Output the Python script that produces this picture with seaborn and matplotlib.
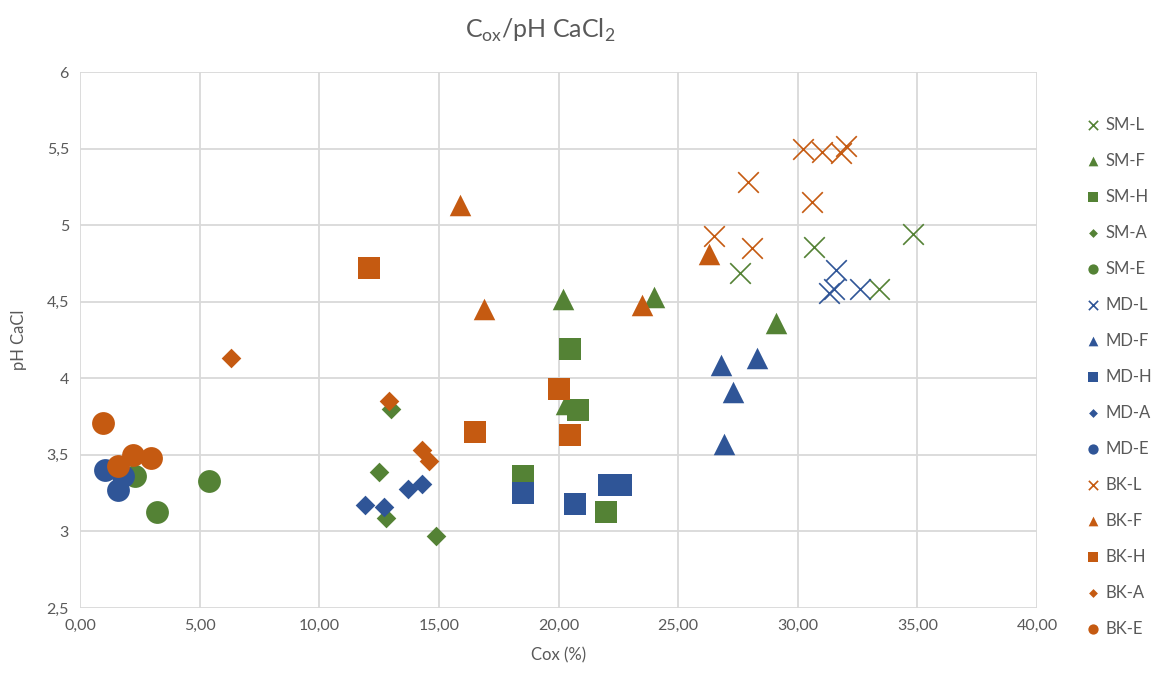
import pandas as pd
import matplotlib
matplotlib.use('Agg')
import matplotlib.pyplot as plt
from matplotlib.ticker import FuncFormatter, MultipleLocator
import seaborn as sns

# Series values (Cox %, pH CaCl2)
sm_l_x = [27.6, 30.7, 34.8, 33.4]
sm_l_y = [4.69, 4.86, 4.94, 4.58]
sm_f_x = [20.2, 24.0, 29.1, 20.3]
sm_f_y = [4.52, 4.53, 4.36, 3.83]
sm_h_x = [20.5, 20.8, 18.5, 22.0]
sm_h_y = [4.19, 3.79, 3.36, 3.13]
sm_a_x = [13.0, 12.5, 12.8, 14.9]
sm_a_y = [3.80, 3.39, 3.09, 2.97]
sm_e_x = [2.3, 5.4, 3.2]
sm_e_y = [3.36, 3.33, 3.13]

md_l_x = [31.6, 31.5, 31.3, 32.6]
md_l_y = [4.71, 4.58, 4.56, 4.58]
md_f_x = [26.8, 28.3, 27.3, 26.9]
md_f_y = [4.09, 4.13, 3.91, 3.57]
md_h_x = [18.5, 20.7, 22.1, 22.6]
md_h_y = [3.25, 3.18, 3.30, 3.30]
md_a_x = [14.3, 13.7, 11.9, 12.7]
md_a_y = [3.31, 3.28, 3.17, 3.16]
md_e_x = [1.05, 1.6, 1.8]
md_e_y = [3.40, 3.27, 3.36]

bk_l_x = [30.2, 31.0, 31.8, 32.0, 27.9, 30.6, 26.5, 28.1]
bk_l_y = [5.50, 5.48, 5.47, 5.52, 5.28, 5.15, 4.93, 4.85]
bk_f_x = [15.9, 16.9, 23.5, 26.3]
bk_f_y = [5.13, 4.45, 4.48, 4.81]
bk_h_x = [12.1, 16.5, 20.0, 20.5]
bk_h_y = [4.72, 3.65, 3.93, 3.63]
bk_a_x = [6.3, 12.9, 14.3, 14.6]
bk_a_y = [4.13, 3.85, 3.53, 3.46]
bk_e_x = [0.97, 1.6, 2.2, 2.95]
bk_e_y = [3.71, 3.43, 3.50, 3.48]

sites = ['SM', 'MD', 'BK']
layers = ['L', 'F', 'H', 'A', 'E']

site_colors = {'SM': '#548235', 'MD': '#2F5597', 'BK': '#C55A11'}
layer_markers = {'L': 'x', 'F': '^', 'H': 's', 'A': 'D', 'E': 'o'}
layer_sizes = {'L': 220, 'F': 240, 'H': 270, 'A': 100, 'E': 270}

GREY = '#595959'


def build_frame():
    """Collect all series into one long table."""
    data = {
        ('SM', 'L'): (sm_l_x, sm_l_y), ('SM', 'F'): (sm_f_x, sm_f_y),
        ('SM', 'H'): (sm_h_x, sm_h_y), ('SM', 'A'): (sm_a_x, sm_a_y),
        ('SM', 'E'): (sm_e_x, sm_e_y),
        ('MD', 'L'): (md_l_x, md_l_y), ('MD', 'F'): (md_f_x, md_f_y),
        ('MD', 'H'): (md_h_x, md_h_y), ('MD', 'A'): (md_a_x, md_a_y),
        ('MD', 'E'): (md_e_x, md_e_y),
        ('BK', 'L'): (bk_l_x, bk_l_y), ('BK', 'F'): (bk_f_x, bk_f_y),
        ('BK', 'H'): (bk_h_x, bk_h_y), ('BK', 'A'): (bk_a_x, bk_a_y),
        ('BK', 'E'): (bk_e_x, bk_e_y),
    }
    rows = []
    for (site, layer), (xs, ys) in data.items():
        for x, y in zip(xs, ys):
            rows.append({'site': site, 'layer': layer, 'series': f'{site}-{layer}',
                         'cox': x, 'ph': y})
    return pd.DataFrame(rows)


def main():
    sns.set_theme(style='white')
    plt.rcParams['font.family'] = ['Lato', 'DejaVu Sans']
    plt.rcParams['mathtext.fontset'] = 'custom'
    plt.rcParams['mathtext.rm'] = 'Lato'

    df = build_frame()

    fig = plt.figure(figsize=(11.54, 6.75), dpi=100)
    ax = fig.add_axes([80 / 1154, 1 - 608 / 675, (1037 - 80) / 1154, (608 - 72) / 675])

    for site in sites:
        for layer in layers:
            sub = df[df['series'] == f'{site}-{layer}']
            color = site_colors[site]
            if layer == 'L':
                sns.scatterplot(data=sub, x='cox', y='ph', ax=ax, marker='x',
                                color=color, s=layer_sizes[layer], linewidth=1.2,
                                label=f'{site}-{layer}', zorder=3)
            else:
                sns.scatterplot(data=sub, x='cox', y='ph', ax=ax,
                                marker=layer_markers[layer], color=color,
                                s=layer_sizes[layer], linewidth=0,
                                label=f'{site}-{layer}', zorder=3)

    ax.set_xlim(0, 40)
    ax.set_ylim(2.5, 6)
    ax.xaxis.set_major_locator(MultipleLocator(5))
    ax.yaxis.set_major_locator(MultipleLocator(0.5))
    ax.xaxis.set_major_formatter(FuncFormatter(lambda v, p: f'{v:.2f}'.replace('.', ',')))
    ax.yaxis.set_major_formatter(FuncFormatter(lambda v, p: f'{v:g}'.replace('.', ',')))
    ax.grid(True, color='#D9D9D9', linewidth=1.3)
    ax.set_axisbelow(True)
    for sp in ax.spines.values():
        sp.set_visible(False)
    ax.tick_params(axis='both', colors=GREY, labelsize=11.5, length=0, pad=8)

    ax.set_xlabel('Cox (%)', color=GREY, fontsize=12, labelpad=10)
    ax.set_ylabel('pH CaCl', color=GREY, fontsize=12, labelpad=14)

    fig.text(540 / 1154, 1 - 30 / 675,
             r'C$_{\mathregular{ox}}$/pH CaCl$_{\mathregular{2}}$',
             ha='center', va='center', fontsize=18, color=GREY)

    # legend nudged left a little so the labels are not clipped at the edge
    ax.legend(loc='upper left', bbox_to_anchor=(1080 / 1154, 1 - 110 / 675),
              bbox_transform=fig.transFigure, frameon=False, fontsize=12,
              labelcolor=GREY, markerscale=0.45, handlelength=0.8,
              handletextpad=0.35, labelspacing=1.2, borderaxespad=0)

    fig.savefig('out.png', dpi=100)


if __name__ == '__main__':
    main()
